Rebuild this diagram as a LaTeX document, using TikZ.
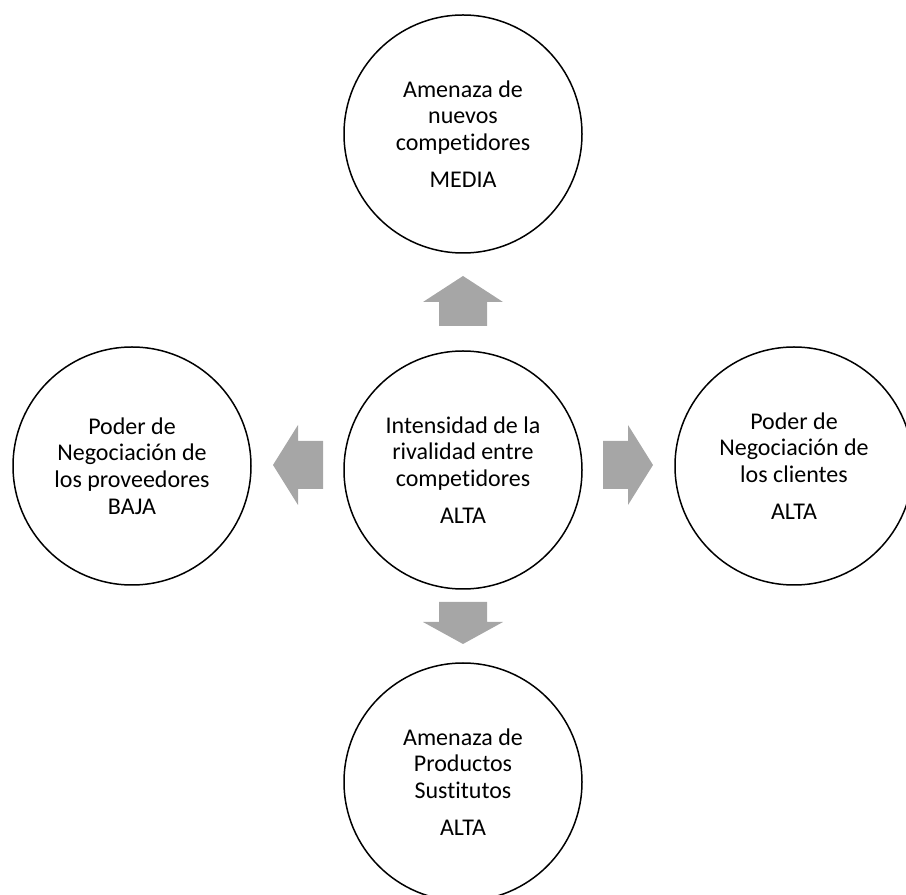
\documentclass[tikz,border=0pt]{standalone}
\usepackage{fontspec}
\setmainfont{Carlito}[RawFeature=-liga]
\definecolor{arrowgray}{HTML}{A6A6A6}
\tikzset{
  force/.style={circle, draw=black, line width=1.5pt, minimum size=238pt,
    inner sep=0pt, align=center, font=\fontsize{24}{26.7}\selectfont},
  % block arrow pointing along +x: shaft length #1, total length #2
  pics/blockarrow/.style n args={2}{code={
    \fill[arrowgray] (0,-24) -- (#1,-24) -- (#1,-40) -- (#2,0)
      -- (#1,40) -- (#1,24) -- (0,24) -- cycle;
  }}
}
\begin{document}
\begin{tikzpicture}[x=1pt,y=1pt]
\useasboundingbox (0,0) rectangle (906,895);

\node[force] (entry) at (463,761)
  {Amenaza de\\nuevos\\competidores\\[10pt]MEDIA};
\node[force] (core) at (463,425)
  {Intensidad de la\\rivalidad entre\\competidores\\[10pt]ALTA};
\node[force] (suppliers) at (132,429)
  {Poder de\\Negociación de\\los proveedores\\BAJA};
\node[force] (buyers) at (794,429)
  {Poder de\\Negociación de\\los clientes\\[10pt]ALTA};
\node[force] (substitutes) at (463,113)
  {Amenaza de\\Productos\\Sustitutos\\[10pt]ALTA};

% block arrows radiating from the central force
\pic[rotate=90]  at (463,569) {blockarrow={24}{50}};
\pic[rotate=-90] at (463,293) {blockarrow={20}{42}};
\pic[rotate=180] at (323,430) {blockarrow={25}{50}};
\pic            at (603,430) {blockarrow={25}{50}};
\end{tikzpicture}
\end{document}
